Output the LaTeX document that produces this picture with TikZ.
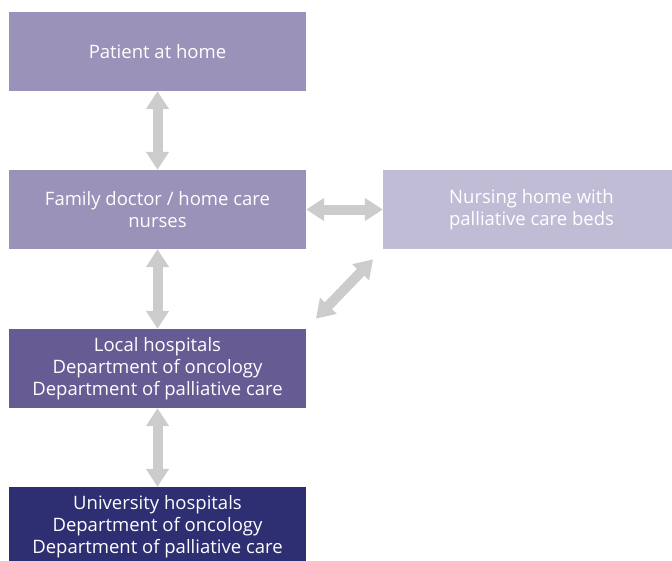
\documentclass[tikz,border=0pt]{standalone}
\usepackage{fontspec}
\setmainfont{Open Sans}
\usetikzlibrary{arrows.meta}

\definecolor{boxmid}{HTML}{9A92B9}
\definecolor{boxpale}{HTML}{C1BCD6}
\definecolor{boxdark}{HTML}{675B94}
\definecolor{boxnavy}{HTML}{2E2E72}
\definecolor{arrowgrey}{HTML}{CCCCCC}

\begin{document}
\begin{tikzpicture}[x=1pt,y=-1pt]

        \useasboundingbox (0,0) rectangle (672,560);

        \begin{scope}
          \clip (0,0) rectangle (672,560);
          \begin{scope}[every node/.style={minimum width=297pt, minimum height=79pt, inner sep=0pt, align=center, text=white, font=\fontsize{18.5}{22}\selectfont}]
            \node[fill=boxmid]  (home)    at (157.5,51.5)  {Patient at home};
            \node[fill=boxmid]  (doctor)  at (157.5,209.5) {Family doctor / home care\\nurses};
            \node[fill=boxpale] (nursing) at (531.5,209.5) {Nursing home with\\palliative care beds};
            \node[fill=boxdark] (local)   at (157.5,368.5) {Local hospitals\\Department of oncology\\Department of palliative care};
            \node[fill=boxnavy] (univ)    at (157.5,526.5) {University hospitals\\Department of oncology\\Department of palliative care};
          \end{scope}
        \end{scope}

        \begin{scope}[every edge/.style={draw=arrowgrey, line width=10pt, {Triangle[width=22pt,length=18pt]}-{Triangle[width=22pt,length=18pt]}}]
          \path (home)   edge (doctor);
          \path (doctor) edge (local);
          \path (local)  edge (univ);
          \path (doctor) edge (nursing);
          \path (nursing.south west) edge[shorten <=14pt, shorten >=14pt] (local.north east);
        \end{scope}

      \end{tikzpicture}
\end{document}
